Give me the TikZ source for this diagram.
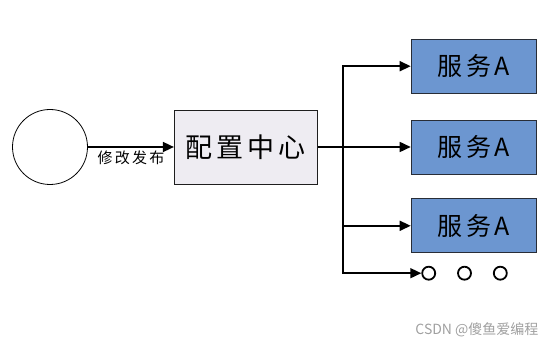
\documentclass[tikz,border=0pt]{standalone}
\usepackage{fontspec}
\newfontfamily\cjk[LetterSpace=15]{Noto Sans CJK SC}
\newfontfamily\cjkplain{Noto Sans CJK SC}
\usetikzlibrary{positioning, arrows.meta, calc}
\definecolor{cfgBorder}{RGB}{30, 30, 30}
\definecolor{cfgBoxBg}{RGB}{238, 236, 242}
\definecolor{svcBoxBg}{RGB}{108, 150, 208}
\definecolor{svcBorder}{RGB}{40, 45, 55}
\definecolor{markGray}{RGB}{160, 160, 160}

\begin{document}
\begin{tikzpicture}[
    font=\cjk,
    >={Triangle[length=11pt,width=10pt]},
    source/.style={
        draw=black,
        circle,
        line width=0.8pt,
        minimum size=75pt,
        inner sep=0pt
    },
    cfgbox/.style={
        draw=cfgBorder,
        fill=cfgBoxBg,
        rectangle,
        line width=0.8pt,
        minimum width=143pt,
        minimum height=74pt,
        font=\cjk\fontsize{27}{30}\selectfont
    },
    svcbox/.style={
        draw=svcBorder,
        fill=svcBoxBg,
        rectangle,
        line width=0.8pt,
        minimum width=125pt,
        minimum height=54pt,
        font=\cjk\fontsize{25}{28}\selectfont
    },
    more/.style={
        draw=black,
        circle,
        line width=1.8pt,
        minimum size=13pt,
        inner sep=0pt
    },
    tag/.style={
        font=\cjk\fontsize{15}{17}\selectfont,
        inner sep=3pt
    },
    arrow/.style={
        draw=black,
        ->,
        line width=1.6pt
    }
]
\useasboundingbox (0,0) rectangle (554pt,350pt);

% 1. Source and config center
\node[source] (src) at (50pt,203pt) {};
\node[cfgbox, right=86pt of src] (cfg) {配置中心};

\draw[arrow] (src) -- node[tag, below] {修改发布} (cfg);

% 2. Services
\node[svcbox, right=93pt of cfg] (svc2) {服务A};
\node[svcbox, above=26pt of svc2] (svc1) {服务A};
\node[svcbox, below=24pt of svc2] (svc3) {服务A};

\node[more] (more1) at ($(svc3.south west)+(18pt,-20pt)$) {};
\node[more, right=21pt of more1] (more2) {};
\node[more, right=21pt of more2] (more3) {};

% 3. Fan-out
\draw[line width=1.6pt] (cfg.east) -- ++(25pt,0) coordinate (split);
\draw[arrow] (split) |- (svc1.west);
\draw[arrow] (split) -- (svc2.west);
\draw[arrow] (split) |- (svc3.west);
\draw[arrow] (split) |- (more1.west);

\node[font=\cjkplain\fontsize{14}{16}\selectfont, text=markGray, anchor=east] (mark) at (542pt,20pt) {CSDN @傻鱼爱编程};

\end{tikzpicture}
\end{document}
